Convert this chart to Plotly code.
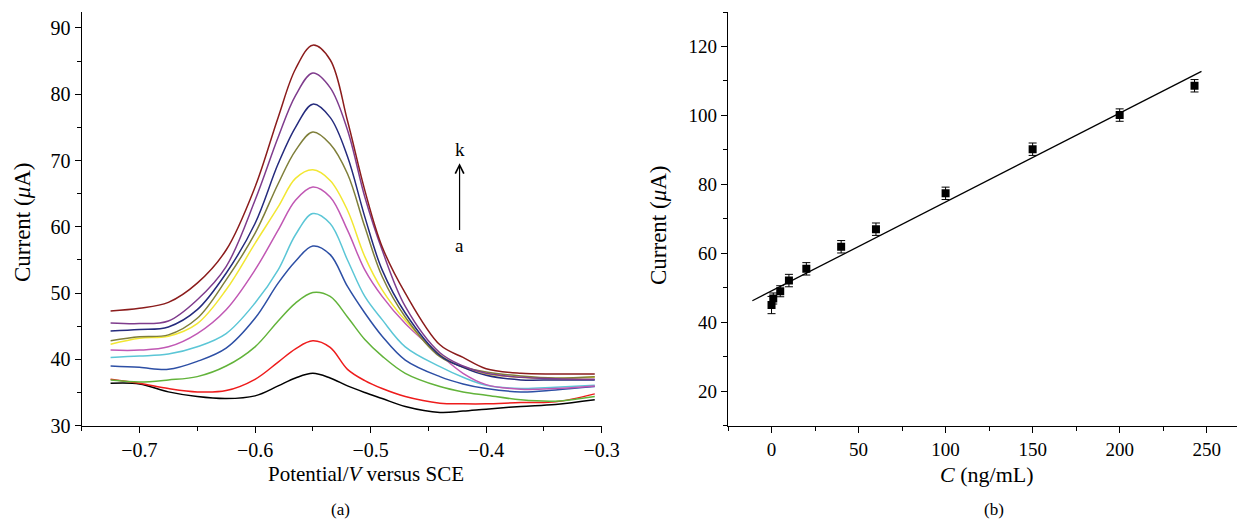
import numpy as np
import plotly.graph_objects as go

# (a) differential pulse voltammograms, curves a..k
potential = [-0.725, -0.70, -0.675, -0.65, -0.625, -0.60, -0.58, -0.565, -0.55, -0.535,
             -0.52, -0.505, -0.49, -0.47, -0.44, -0.42, -0.40, -0.37, -0.34, -0.306]

curve_a = [36.4, 36.3, 35.1, 34.4, 34.1, 34.5, 36.0, 37.2, 37.9, 37.2,
           36.0, 35.0, 34.1, 32.9, 32.0, 32.2, 32.5, 32.9, 33.2, 33.9]
curve_b = [37.0, 36.4, 35.6, 35.1, 35.3, 37.0, 39.6, 41.6, 42.8, 41.8,
           38.5, 36.8, 35.6, 34.4, 33.4, 33.3, 33.3, 33.5, 33.6, 34.8]
curve_c = [36.9, 36.6, 36.9, 37.4, 39.0, 41.9, 45.8, 48.5, 50.1, 49.5,
           46.4, 43.0, 40.5, 37.9, 35.9, 35.1, 34.6, 33.9, 33.7, 34.4]
curve_d = [39.0, 38.8, 38.5, 39.7, 41.7, 46.2, 51.5, 54.8, 57.1, 55.8,
           51.0, 47.0, 43.5, 39.9, 37.4, 36.3, 35.6, 35.1, 35.4, 35.9]
curve_e = [40.3, 40.5, 40.8, 41.9, 43.9, 48.5, 53.5, 58.8, 62.0, 60.5,
           55.0, 49.5, 46.0, 41.9, 38.9, 37.3, 36.1, 35.6, 35.8, 36.1]
curve_f = [41.4, 41.4, 41.9, 43.9, 47.5, 53.5, 59.5, 64.0, 66.0, 64.5,
           59.5, 53.5, 49.5, 45.4, 40.7, 37.9, 36.2, 35.5, 35.6, 36.0]
curve_g = [42.3, 43.2, 43.5, 45.4, 50.5, 57.5, 63.0, 67.3, 68.6, 67.0,
           62.5, 55.5, 50.5, 45.9, 40.7, 38.8, 37.8, 37.3, 37.1, 37.3]
curve_h = [42.8, 43.4, 43.7, 46.2, 52.0, 59.0, 66.5, 71.5, 74.3, 72.5,
           68.0, 60.0, 52.5, 46.4, 40.4, 38.9, 38.1, 37.5, 37.2, 37.4]
curve_i = [44.3, 44.5, 44.9, 47.5, 53.0, 60.5, 69.5, 75.0, 78.5, 76.5,
           70.6, 61.5, 53.5, 47.0, 40.6, 38.8, 37.6, 36.9, 36.9, 36.9]
curve_j = [45.5, 45.4, 45.8, 49.0, 54.0, 64.0, 73.5, 79.8, 83.2, 81.0,
           74.6, 64.5, 56.5, 48.0, 41.0, 39.0, 37.9, 37.3, 37.1, 37.0]
curve_k = [47.3, 47.7, 48.6, 51.5, 56.5, 66.0, 76.5, 83.8, 87.4, 85.2,
           76.0, 65.5, 57.0, 50.0, 42.2, 40.3, 38.6, 37.9, 37.8, 37.8]

curves = [curve_a, curve_b, curve_c, curve_d, curve_e, curve_f,
          curve_g, curve_h, curve_i, curve_j, curve_k]
curve_names = ['a', 'b', 'c', 'd', 'e', 'f', 'g', 'h', 'i', 'j', 'k']
curve_colors = ['#000000', '#ee1c1c', '#62b33a', '#2d4fa5', '#5bc6d6', '#c158b4',
                '#f2e733', '#7f7f3a', '#252b7d', '#7f3c8d', '#8b1c1c']

# (b) calibration plot
conc = [0, 1, 5, 10, 20, 40, 60, 100, 150, 200, 243]
current = [45.0, 46.9, 49.0, 52.1, 55.5, 61.9, 67.0, 77.4, 90.2, 100.1, 108.6]
current_err = [2.5, 1.6, 1.6, 1.8, 1.8, 1.8, 1.8, 1.8, 1.8, 1.8, 1.8]
fit_span = [-11, 247]

FONT = 'Liberation Serif'
W, H = 1245, 529
OFF = 8  # page body margin shifts the whole figure


def px_x(x):
    return (x - OFF) / W


def px_y(y):
    return 1 - (y - OFF) / H


fig = go.Figure()

for name, color, values in zip(curve_names, curve_colors, curves):
    fig.add_trace(go.Scatter(x=potential, y=values, mode='lines', name=name,
                             line=dict(color=color, width=1.5, shape='spline', smoothing=1.0),
                             xaxis='x', yaxis='y'))

slope, intercept = np.polyfit(conc, current, 1)
fit_x = np.array(fit_span, dtype=float)
fig.add_trace(go.Scatter(x=fit_x, y=slope * fit_x + intercept, mode='lines',
                         line=dict(color='black', width=1.3), xaxis='x2', yaxis='y2'))

fig.add_trace(go.Scatter(x=conc, y=current, mode='markers',
                         marker=dict(symbol='square', size=8, color='black'),
                         error_y=dict(type='data', array=current_err, color='black',
                                      thickness=1, width=4),
                         xaxis='x2', yaxis='y2'))


def axis_style(size):
    return dict(showline=True, linecolor='black', linewidth=1.4, ticks='outside',
                ticklen=6, tickwidth=1.3, tickcolor='black', showgrid=False,
                zeroline=False, tickfont=dict(family=FONT, size=size, color='black'))


minor_common = dict(ticklen=4, ticks='outside', tickcolor='black', tickwidth=1.2)

fig.update_layout(
    width=W, height=H,
    margin=dict(l=0, r=0, t=0, b=0, autoexpand=False),
    paper_bgcolor='white', plot_bgcolor='white',
    showlegend=False,
    font=dict(family=FONT, size=19, color='black'),
    xaxis=dict(domain=[px_x(81.7), px_x(601.7)], range=[-0.75, -0.3], tick0=-0.7, dtick=0.1,
               anchor='y', minor=dict(dtick=0.05, **minor_common), tickformat='.1f',
               **axis_style(20)),
    yaxis=dict(domain=[px_y(425.7), px_y(12)], range=[30, 92.4], dtick=10, anchor='x',
               minor=dict(dtick=5, **minor_common), **axis_style(20)),
    xaxis2=dict(domain=[px_x(728), px_x(1245)], range=[-25, 272], dtick=50, anchor='y2',
                minor=dict(dtick=25, **minor_common), **axis_style(19)),
    yaxis2=dict(domain=[px_y(425.7), px_y(12)], range=[10, 130], dtick=20, anchor='x2',
                minor=dict(dtick=10, **minor_common), **axis_style(19)),
)

title_font = dict(family=FONT, size=21, color='black')
ytitle_font = dict(family=FONT, size=23, color='black')
annotations = [
    dict(x=-0.423, y=69.6, ax=-0.423, ay=59.3, xref='x', yref='y', axref='x', ayref='y',
         showarrow=True, arrowhead=5, arrowsize=1.4, arrowwidth=1.2, arrowcolor='black', text=''),
    dict(x=-0.423, y=71.7, xref='x', yref='y', text='k', showarrow=False,
         font=dict(family=FONT, size=19)),
    dict(x=-0.423, y=57.2, xref='x', yref='y', text='a', showarrow=False,
         font=dict(family=FONT, size=19)),
    dict(x=px_x(366), y=px_y(474), xref='paper', yref='paper', xanchor='center', yanchor='middle',
         text='Potential/<i>V</i> versus SCE', showarrow=False, font=title_font),
    dict(x=px_x(987), y=px_y(474), xref='paper', yref='paper', xanchor='center', yanchor='middle',
         text='<i>C</i> (ng/mL)', showarrow=False, font=dict(family=FONT, size=22, color='black')),
    dict(x=px_x(22), y=px_y(222), xref='paper', yref='paper', xanchor='center', yanchor='middle',
         textangle=-90, text='Current (<i>μ</i>A)', showarrow=False, font=ytitle_font),
    dict(x=px_x(659), y=px_y(225), xref='paper', yref='paper', xanchor='center', yanchor='middle',
         textangle=-90, text='Current (<i>μ</i>A)', showarrow=False, font=ytitle_font),
    dict(x=px_x(340), y=px_y(509), xref='paper', yref='paper', xanchor='center', yanchor='middle',
         text='(a)', showarrow=False, font=dict(family=FONT, size=17)),
    dict(x=px_x(994), y=px_y(509), xref='paper', yref='paper', xanchor='center', yanchor='middle',
         text='(b)', showarrow=False, font=dict(family=FONT, size=17)),
]
fig.update_layout(annotations=annotations)

fig.write_html("out.html")
